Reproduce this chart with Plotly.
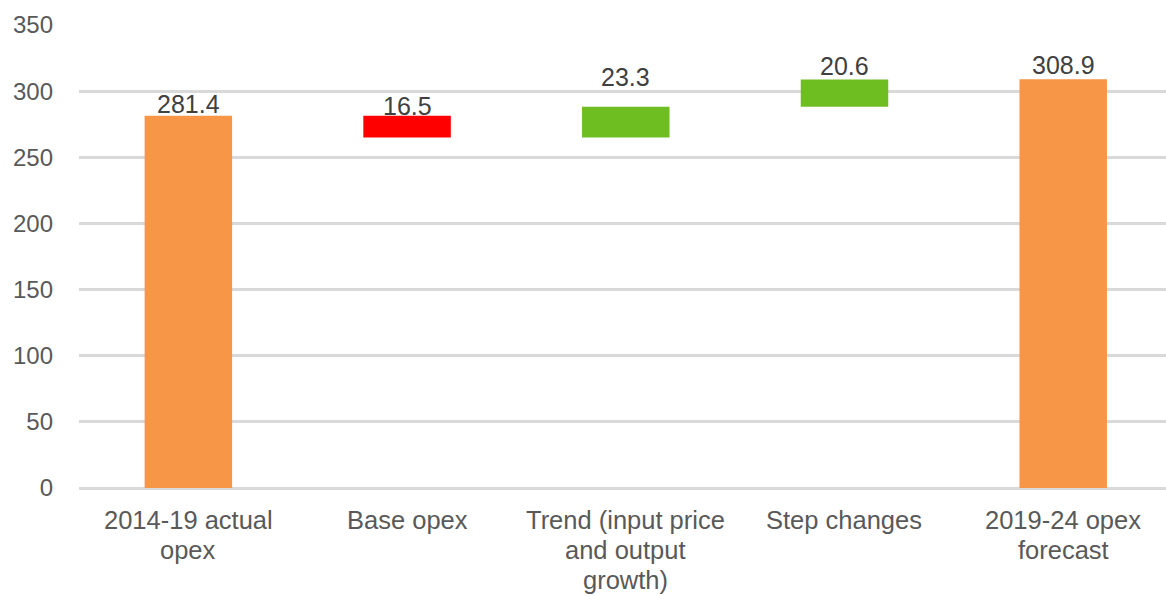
import plotly.graph_objects as go

categories = ["2014-19 actual opex", "Base opex", "Trend (input price and output growth)", "Step changes", "2019-24 opex forecast"]
category_lines = [["2014-19 actual", "opex"], ["Base opex"], ["Trend (input price", "and output", "growth)"],
                  ["Step changes"], ["2019-24 opex", "forecast"]]
values = [281.4, -16.5, 23.3, 20.6, 308.9]
measures = ["absolute", "relative", "relative", "relative", "absolute"]
labels = ["281.4", "16.5", "23.3", "20.6", "308.9"]
label_shift = [-4, -6, 14, -2, -2]
y_ticks = [0, 50, 100, 150, 200, 250, 300, 350]

# compute bar tops for label placement
tops = []
level = 0
for v, m in zip(values, measures):
    if m == "absolute":
        level = v
        tops.append(v)
    else:
        prev = level
        level = level + v
        tops.append(max(prev, level))

FONT = "Liberation Sans, Arial, sans-serif"

fig = go.Figure(go.Waterfall(
    x=categories,
    y=values,
    measure=measures,
    width=0.4,
    connector=dict(visible=False),
    increasing=dict(marker=dict(color="#6EBE22")),
    decreasing=dict(marker=dict(color="#FF0000")),
    totals=dict(marker=dict(color="#F79646")),
    hoverinfo="skip",
))

for c, t, lab, s in zip(categories, tops, labels, label_shift):
    fig.add_annotation(x=c, y=t, text=lab, showarrow=False, yanchor="bottom",
                       yshift=s, font=dict(family=FONT, size=25, color="#404040"))

for c, lines in zip(categories, category_lines):
    for i, line in enumerate(lines):
        fig.add_annotation(x=c, xref="x", y=0, yref="paper", text=line, showarrow=False,
                           yanchor="top", xanchor="center", yshift=-16 - 30 * i,
                           font=dict(family=FONT, size=25.5, color="#595959"))

fig.update_layout(
    width=1166, height=596,
    margin=dict(l=79, r=0, t=25, b=108),
    plot_bgcolor="white", paper_bgcolor="white",
    showlegend=False,
    font=dict(family=FONT, size=24, color="#595959"),
    xaxis=dict(range=[-0.5, 4.47], showgrid=False, showline=False, ticks="",
               showticklabels=False),
    yaxis=dict(range=[0, 350], tickvals=y_ticks, showgrid=True, gridcolor="#D9D9D9",
               gridwidth=2.5, zeroline=True, zerolinecolor="#D9D9D9", zerolinewidth=2.5,
               showline=False, ticks="", ticklabelstandoff=25,
               tickfont=dict(size=24, color="#595959")),
)

fig.write_html("out.html")
